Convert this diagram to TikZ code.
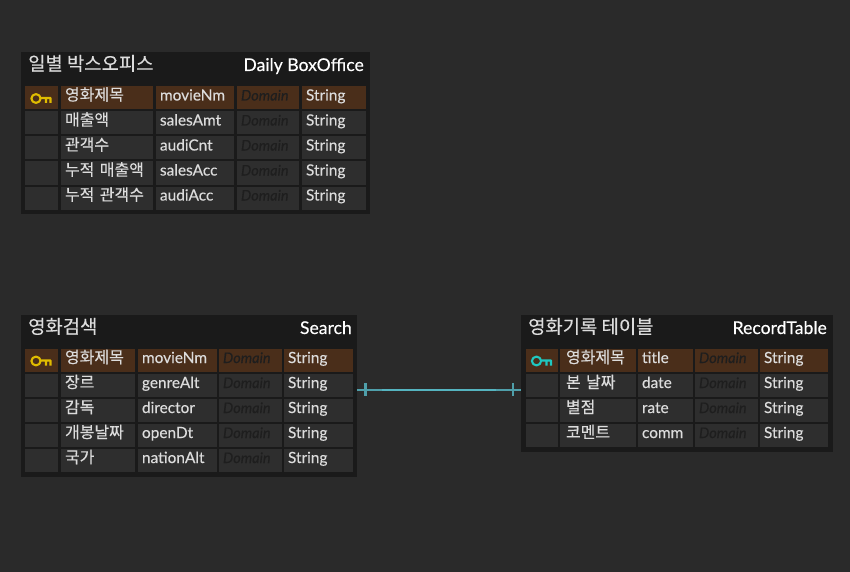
\documentclass[tikz,border=0pt]{standalone}
\usepackage{fontspec}
\setmainfont{Lato}[FakeBold=0.25]
\newfontfamily\krfont{Noto Sans CJK KR}[FakeBold=0.3]
\usetikzlibrary{positioning}
\definecolor{canvasgray}{HTML}{2A2A2A}
\definecolor{tablegray}{HTML}{1A1A1A}
\definecolor{cellgray}{HTML}{2E2E2E}
\definecolor{pkbrown}{HTML}{4A2E1A}
\definecolor{domaingray}{HTML}{1E1E1E}
\definecolor{textgray}{HTML}{DCDCDC}
\definecolor{linkteal}{HTML}{55B4C0}
\definecolor{keygold}{HTML}{E0BC00}
\definecolor{keyteal}{HTML}{1FC8C0}
\tikzstyle{tablebox} = [rectangle, fill=tablegray, inner sep=0pt, anchor=north west]
\tikzstyle{krtitle} = [inner sep=0pt, anchor=base west, text=textgray, font=\krfont\fontsize{18.8}{19}\selectfont]
\tikzstyle{entitle} = [inner sep=0pt, anchor=base east, text=white, font=\fontsize{17.6}{18}\selectfont]
\tikzstyle{cell} = [rectangle, fill=cellgray, inner ysep=0pt, inner xsep=4pt, text height=14pt, text depth=9pt, align=left, text=textgray, font=\fontsize{15.4}{16}\selectfont]
\tikzstyle{pk} = [fill=pkbrown]
\tikzstyle{keycell} = [cell, minimum width=33pt]
\tikzstyle{krcell} = [cell, font=\krfont\fontsize{16}{16}\selectfont]
\tikzstyle{krcellwide} = [krcell, inner xsep=6pt]
\tikzstyle{domcell} = [cell, text=domaingray, font=\itshape\fontsize{14.5}{15}\selectfont]
\tikzstyle{link} = [line width=2.4pt, draw=linkteal]
\tikzstyle{linkend} = [line width=2.4pt, draw=linkteal!85!canvasgray]
\tikzstyle{keypic} = [line width=2.1pt, line join=round]

\begin{document}
\begin{tikzpicture}[x=1pt, y=-1pt, node distance=25pt]
\useasboundingbox[fill=canvasgray] (0,0) rectangle (850,572);

% daily box office
\node(daily)[tablebox, minimum width=349pt, minimum height=162pt] at (21,52){};
\node(dailyKr)[krtitle] at (28,70.5){일별 박스오피스};
\node(dailyEn)[entitle] at (364,71){Daily BoxOffice};

\node(dKey1)[keycell, pk] at (41.5,98){};
\node(dName1)[krcell, pk, text width=84pt] at (107,98){영화제목};
\node(dPhys1)[cell, pk, text width=70pt] at (195,98){movieNm};
\node(dDom1)[domcell, pk, text width=54pt] at (268,98){Domain};
\node(dType1)[cell, pk, text width=56pt] at (334,98){String};

\node(dKey2)[keycell, below of=dKey1]{};
\node(dName2)[krcell, text width=84pt, below of=dName1]{매출액};
\node(dPhys2)[cell, text width=70pt, below of=dPhys1]{salesAmt};
\node(dDom2)[domcell, text width=54pt, below of=dDom1]{Domain};
\node(dType2)[cell, text width=56pt, below of=dType1]{String};

\node(dKey3)[keycell, below of=dKey2]{};
\node(dName3)[krcell, text width=84pt, below of=dName2]{관객수};
\node(dPhys3)[cell, text width=70pt, below of=dPhys2]{audiCnt};
\node(dDom3)[domcell, text width=54pt, below of=dDom2]{Domain};
\node(dType3)[cell, text width=56pt, below of=dType2]{String};

\node(dKey4)[keycell, below of=dKey3]{};
\node(dName4)[krcell, text width=84pt, below of=dName3]{누적 매출액};
\node(dPhys4)[cell, text width=70pt, below of=dPhys3]{salesAcc};
\node(dDom4)[domcell, text width=54pt, below of=dDom3]{Domain};
\node(dType4)[cell, text width=56pt, below of=dType3]{String};

\node(dKey5)[keycell, below of=dKey4]{};
\node(dName5)[krcell, text width=84pt, below of=dName4]{누적 관객수};
\node(dPhys5)[cell, text width=70pt, below of=dPhys4]{audiAcc};
\node(dDom5)[domcell, text width=54pt, below of=dDom4]{Domain};
\node(dType5)[cell, text width=56pt, below of=dType4]{String};

% search
\node(search)[tablebox, minimum width=336pt, minimum height=162pt] at (21,315){};
\node(searchKr)[krtitle] at (28,333.5){영화검색};
\node(searchEn)[entitle] at (352,334){Search};

\node(sKey1)[keycell, pk] at (41.5,360.5){};
\node(sName1)[krcell, pk, text width=66pt] at (98,360.5){영화제목};
\node(sPhys1)[cell, pk, text width=71pt] at (177.5,360.5){movieNm};
\node(sDom1)[domcell, pk, text width=55pt] at (250.5,360.5){Domain};
\node(sType1)[cell, pk, text width=61pt] at (318.5,360.5){String};

\node(sKey2)[keycell, below of=sKey1]{};
\node(sName2)[krcell, text width=66pt, below of=sName1]{장르};
\node(sPhys2)[cell, text width=71pt, below of=sPhys1]{genreAlt};
\node(sDom2)[domcell, text width=55pt, below of=sDom1]{Domain};
\node(sType2)[cell, text width=61pt, below of=sType1]{String};

\node(sKey3)[keycell, below of=sKey2]{};
\node(sName3)[krcell, text width=66pt, below of=sName2]{감독};
\node(sPhys3)[cell, text width=71pt, below of=sPhys2]{director};
\node(sDom3)[domcell, text width=55pt, below of=sDom2]{Domain};
\node(sType3)[cell, text width=61pt, below of=sType2]{String};

\node(sKey4)[keycell, below of=sKey3]{};
\node(sName4)[krcell, text width=66pt, below of=sName3]{개봉날짜};
\node(sPhys4)[cell, text width=71pt, below of=sPhys3]{openDt};
\node(sDom4)[domcell, text width=55pt, below of=sDom3]{Domain};
\node(sType4)[cell, text width=61pt, below of=sType3]{String};

\node(sKey5)[keycell, below of=sKey4]{};
\node(sName5)[krcell, text width=66pt, below of=sName4]{국가};
\node(sPhys5)[cell, text width=71pt, below of=sPhys4]{nationAlt};
\node(sDom5)[domcell, text width=55pt, below of=sDom4]{Domain};
\node(sType5)[cell, text width=61pt, below of=sType4]{String};

% record table
\node(record)[tablebox, minimum width=312pt, minimum height=137pt] at (521,315){};
\node(recordKr)[krtitle] at (528,333.5){영화기록 테이블};
\node(recordEn)[entitle] at (827,334){RecordTable};

\node(rKey1)[keycell, pk, minimum width=32pt] at (542,360.5){};
\node(rName1)[krcellwide, pk, text width=64pt] at (598,360.5){영화제목};
\node(rPhys1)[cell, pk, text width=47pt] at (665.5,360.5){title};
\node(rDom1)[domcell, pk, text width=55pt] at (726.5,360.5){Domain};
\node(rType1)[cell, pk, text width=60pt] at (794,360.5){String};

\node(rKey2)[keycell, minimum width=32pt, below of=rKey1]{};
\node(rName2)[krcellwide, text width=64pt, below of=rName1]{본 날짜};
\node(rPhys2)[cell, text width=47pt, below of=rPhys1]{date};
\node(rDom2)[domcell, text width=55pt, below of=rDom1]{Domain};
\node(rType2)[cell, text width=60pt, below of=rType1]{String};

\node(rKey3)[keycell, minimum width=32pt, below of=rKey2]{};
\node(rName3)[krcellwide, text width=64pt, below of=rName2]{별점};
\node(rPhys3)[cell, text width=47pt, below of=rPhys2]{rate};
\node(rDom3)[domcell, text width=55pt, below of=rDom2]{Domain};
\node(rType3)[cell, text width=60pt, below of=rType2]{String};

\node(rKey4)[keycell, minimum width=32pt, below of=rKey3]{};
\node(rName4)[krcellwide, text width=64pt, below of=rName3]{코멘트};
\node(rPhys4)[cell, text width=47pt, below of=rPhys3]{comm};
\node(rDom4)[domcell, text width=55pt, below of=rDom3]{Domain};
\node(rType4)[cell, text width=60pt, below of=rType3]{String};

% key icons
\draw[keypic, draw=keygold] ([xshift=-5.5pt,yshift=-0.5pt]dKey1.center) circle (4.6pt and 4.4pt) ([xshift=-1pt]dKey1.center) -- ([xshift=9pt]dKey1.center) -- ++(0,5) (dKey1.center) ++(4.5,0) -- ++(0,5);
\draw[keypic, draw=keygold] ([xshift=-5.5pt,yshift=-0.5pt]sKey1.center) circle (4.6pt and 4.4pt) ([xshift=-1pt]sKey1.center) -- ([xshift=9pt]sKey1.center) -- ++(0,5) (sKey1.center) ++(4.5,0) -- ++(0,5);
\draw[keypic, draw=keyteal] ([xshift=-5.5pt,yshift=-0.5pt]rKey1.center) circle (4.6pt and 4.4pt) ([xshift=-1pt]rKey1.center) -- ([xshift=9pt]rKey1.center) -- ++(0,5) (rKey1.center) ++(4.5,0) -- ++(0,5);

% relation
\draw[linkend]([yshift=6.5pt]search.east) -- ([yshift=-6pt]record.west);
\draw[link]([xshift=25pt,yshift=6.5pt]search.east) -- ([xshift=-25pt,yshift=-6pt]record.west);
\draw[linkend]([xshift=8pt,yshift=13pt]search.east) -- ([xshift=8pt,yshift=0pt]search.east);
\draw[linkend]([xshift=-8pt,yshift=0.5pt]record.west) -- ([xshift=-8pt,yshift=-12.5pt]record.west);

\end{tikzpicture}
\end{document}
